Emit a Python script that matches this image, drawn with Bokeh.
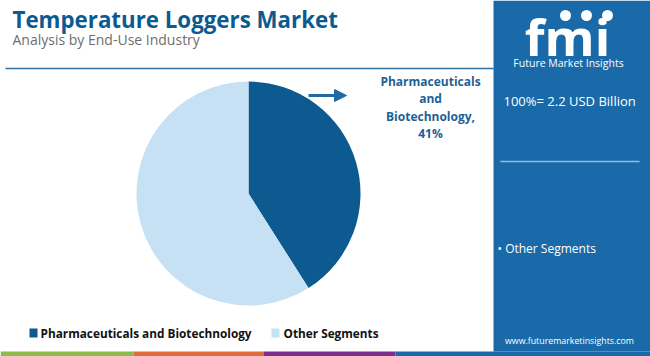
import math
from bokeh.plotting import figure
from bokeh.models import Range1d, Arrow, NormalHead
from bokeh.core.properties import value
from bokeh.embed import file_html
from bokeh.resources import INLINE

# ---- data ----
title = "Temperature Loggers Market"
subtitle = "Analysis by End-Use Industry"
segments = ["Pharmaceuticals and Biotechnology", "Other Segments"]
shares = [41, 59]
seg_colors = ["#0d5a91", "#c6e1f3"]
total_label = "100%= 2.2 USD Billion"
callout = ["Pharmaceuticals", "and", "Biotechnology,", "41%"]
side_item = "\u2022 Other Segments"
site = "www.futuremarketinsights.com"

W, H = 650, 356
p = figure(width=W, height=H, x_range=Range1d(0, W), y_range=Range1d(0, H),
           output_backend="svg", toolbar_location=None, min_border=0,
           outline_line_color=None, background_fill_color="white",
           border_fill_color="white")
p.axis.visible = False
p.grid.visible = False

def Y(py):
    return H - py

# ---- pie ----
cx, cy, r = 248, Y(193), 112
start = math.pi / 2
total = sum(shares)
starts, ends = [], []
a = start
for s in shares:
    b = a - 2 * math.pi * s / total
    starts.append(b)
    ends.append(a)
    a = b
p.wedge(x=[cx] * len(shares), y=[cy] * len(shares), radius=r,
        start_angle=starts, end_angle=ends, direction="anticlock",
        fill_color=seg_colors, line_color=None)

# ---- header ----
p.text(x=[12], y=[Y(19)], text=[title], text_font=value("Open Sans"),
       text_font_style="bold", text_font_size="22.3px", text_color="#0d5a91",
       text_baseline="middle")
p.text(x=[12], y=[Y(39)], text=[subtitle], text_font=value("Open Sans"),
       text_font_size="14px", text_color="#6e6e6e", text_baseline="middle")
p.segment(x0=[5], y0=[Y(68)], x1=[493], y1=[Y(68)], line_color="#2d6f9f",
          line_width=1.5)

# ---- callout ----
p.add_layout(Arrow(end=NormalHead(size=12, fill_color="#1f6aa5", line_color="#1f6aa5"),
                   x_start=308, y_start=Y(95), x_end=346, y_end=Y(95),
                   line_color="#1f6aa5", line_width=3))
for i, t in enumerate(callout):
    p.text(x=[430], y=[Y(80.5 + i * 17.5)], text=[t], text_font=value("Open Sans"),
           text_font_style="bold", text_font_size="12px", text_color="#1f5f96",
           text_align="center", text_baseline="middle")

# ---- legend ----
p.quad(left=[29, 271], right=[37, 279], bottom=[Y(337), Y(337)], top=[Y(328), Y(328)],
       fill_color=seg_colors, line_color=None)
p.text(x=[40, 283], y=[Y(332), Y(332)], text=segments, text_font=value("Open Sans"),
       text_font_style="bold", text_font_size="11.8px", text_color="#111111",
       text_baseline="middle")

# ---- right panel ----
p.quad(left=[493], right=[W], bottom=[Y(351)], top=[Y(0)], fill_color="#1a69a8",
       line_color=None)
p.text(x=[567], y=[Y(0)], text=["fmi"], text_font=value("Open Sans"),
       text_font_style="bold", text_font_size="51px", text_color="white",
       text_align="center", text_baseline="top")
p.circle(x=[565, 586, 607], y=[Y(15)] * 3, radius=5.5, fill_color="white", line_color=None)
p.text(x=[568], y=[Y(62)], text=["Future Market Insights"], text_font=value("Open Sans"),
       text_font_size="10.5px", text_color="white", text_align="center",
       text_baseline="middle")
p.text(x=[503], y=[Y(100)], text=[total_label], text_font=value("Open Sans"),
       text_font_size="13px", text_color="white", text_baseline="middle")
p.segment(x0=[500], y0=[Y(161)], x1=[639], y1=[Y(161)], line_color="#8cc0e6",
          line_width=1.5)
p.text(x=[497], y=[Y(248)], text=[side_item], text_font=value("Open Sans"),
       text_font_size="12px", text_color="white", text_baseline="middle")
p.text(x=[569], y=[Y(340)], text=[site], text_font=value("Open Sans"),
       text_font_size="8.8px", text_color="white", text_align="center",
       text_baseline="middle")

# ---- bottom strip ----
strip_left = [0, 133, 263, 395]
strip_right = [133, 263, 395, W]
strip_colors = ["#8bbb4c", "#e06d3b", "#7d2f8c", "#1a69a8"]
p.quad(left=strip_left, right=strip_right, bottom=[0] * 4, top=[Y(351)] * 4,
       fill_color=strip_colors, line_color=None)

open("out.html", "w").write(file_html(p, INLINE))
